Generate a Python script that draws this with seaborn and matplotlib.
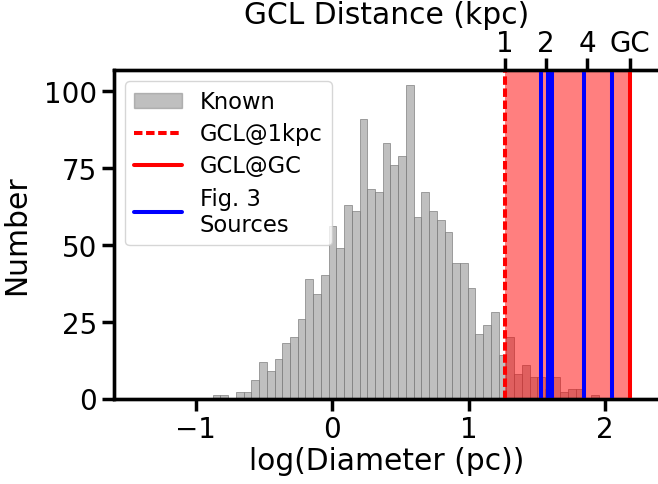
import numpy as np
import pandas as pd
import seaborn as sns
import matplotlib
matplotlib.use("Agg")
import matplotlib.pyplot as plt
from matplotlib.lines import Line2D
from matplotlib.patches import Patch

# ---- data -----------------------------------------------------------
bin_start = -0.875          # log(Diameter) of first bin edge
bin_width = 0.0566
counts = [1, 1, 0, 2, 2, 6, 12, 9, 13, 18, 20, 26, 39, 34, 40, 56, 49,
          63, 61, 91, 68, 67, 83, 76, 79, 102, 59, 67, 61, 58, 54, 44, 44,
          36, 21, 24, 28, 14, 20, 8, 11, 7, 7, 3, 7, 2, 3, 3, 0, 1]
gcl_1kpc_log = 1.265            # log diameter of GCL at 1 kpc
gc_distance_kpc = 8.2
top_tick_dist = [1, 2, 4, gc_distance_kpc]
top_tick_labels = ["1", "2", "4", "GC"]
fig3_sources = [1.531, 1.584, 1.613, 1.844, 2.049]
xlim = (-1.6, 2.4)

edges = [bin_start + bin_width * i for i in range(len(counts) + 1)]
centers = [0.5 * (edges[i] + edges[i + 1]) for i in range(len(counts))]
df = pd.DataFrame({"logD": centers, "n": counts})

gc_log = gcl_1kpc_log + np.log10(gc_distance_kpc)
top_pos = [gcl_1kpc_log + np.log10(d) for d in top_tick_dist]

# ---- style ----------------------------------------------------------
sns.set_theme(style="ticks")
plt.rcParams["font.family"] = ["DejaVu Sans"]
plt.rcParams.update({
    "axes.linewidth": 2.4, "axes.edgecolor": "black",
    "text.color": "black", "axes.labelcolor": "black",
    "xtick.color": "black", "ytick.color": "black",
    "axes.labelsize": 21.4,
})
for a in ("x", "y"):
    plt.rcParams[f"{a}tick.major.width"] = 2.5
    plt.rcParams[f"{a}tick.major.size"] = 8.6
    plt.rcParams[f"{a}tick.labelsize"] = 20

fig = plt.figure(figsize=(6.58, 4.85), dpi=100)
W, H = 658, 485
ax = fig.add_axes([113.8 / W, (H - 399.5) / H, (659.8 - 113.8) / W, (399.5 - 71) / H])

sns.histplot(data=df, x="logD", weights="n", bins=edges, color="gray",
             alpha=0.5, edgecolor="gray", linewidth=0.5, ax=ax, zorder=1)

ax.axvspan(gcl_1kpc_log, gc_log, color="red", alpha=0.5, lw=0, zorder=2)
ax.axvline(gcl_1kpc_log, color="red", lw=2.9, ls=(0, (2.1, 0.9)), zorder=3)
ax.axvline(gc_log, color="red", lw=2.9, zorder=3)
for s in fig3_sources:
    ax.axvline(s, color="blue", lw=2.9, zorder=3)

ax.set_xlim(*xlim)
ax.set_ylim(0, 106.8)
ax.set_yticks([0, 25, 50, 75, 100])
ax.set_xticks([-1, 0, 1, 2])
ax.set_xlabel("log(Diameter (pc))", labelpad=2)
ax.set_ylabel("Number", labelpad=9)

ax2 = ax.twiny()
ax2.set_xlim(*xlim)
ax2.set_xticks(top_pos)
ax2.set_xticklabels(top_tick_labels)
ax2.set_xlabel("GCL Distance (kpc)", labelpad=4)
ax2.tick_params(axis="x", pad=1)

handles = [
    Patch(facecolor="gray", alpha=0.5, edgecolor="gray", label="Known"),
    Line2D([], [], color="red", lw=2.9, ls=(0, (2.1, 0.9)), label="GCL@1kpc"),
    Line2D([], [], color="red", lw=2.9, label="GCL@GC"),
    Line2D([], [], color="blue", lw=2.9, label="Fig. 3\nSources"),
]
ax.legend(handles=handles, loc="upper left", fontsize=16.3, handlelength=2.1,
          frameon=True, borderaxespad=0.5, labelspacing=0.4)

fig.savefig("out.png", dpi=100)
